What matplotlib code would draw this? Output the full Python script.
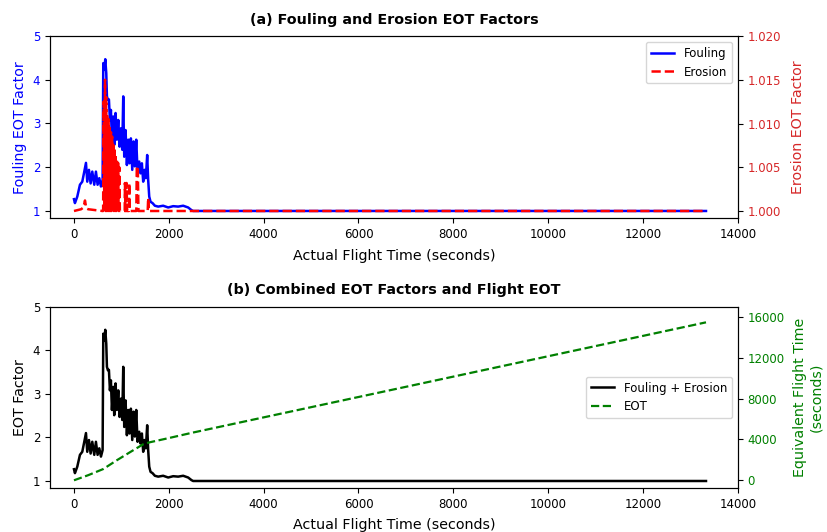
import numpy as np
import matplotlib
matplotlib.use("Agg")
import matplotlib.pyplot as plt

# fouling factor, time in seconds
foul_t = [0, 20, 70, 126, 175, 210, 253, 280, 316, 351, 386, 428, 463, 498, 534, 569, 604,
          618, 640, 660, 681, 695, 716, 737, 758, 779, 800, 828, 849, 877, 905, 934, 962, 990,
          1018, 1039, 1060, 1088, 1116, 1144, 1172, 1200, 1229, 1257, 1285, 1313, 1341, 1376,
          1404, 1432, 1460, 1488, 1516, 1544, 1565, 1587, 1615, 1657, 1706, 1776, 1881, 1987,
          2092, 2197, 2303, 2408, 2478, 2513, 13330]
foul_v = [1.27, 1.18, 1.33, 1.60, 1.67, 1.86, 2.10, 1.67, 1.94, 1.63, 1.90, 1.60, 1.90, 1.60,
          1.75, 1.56, 1.71, 4.38, 4.23, 4.47, 4.15, 3.62, 3.54, 3.55, 3.08, 3.31, 2.63, 3.16,
          2.51, 3.24, 2.63, 3.08, 2.47, 2.89, 2.40, 3.62, 2.24, 2.85, 2.05, 2.63, 2.09, 2.66,
          1.94, 2.59, 2.02, 2.63, 1.90, 2.13, 1.86, 2.09, 1.67, 1.94, 1.75, 2.28, 1.71, 1.33,
          1.21, 1.18, 1.12, 1.10, 1.12, 1.08, 1.11, 1.10, 1.12, 1.08, 1.02, 1.00, 1.00]

# erosion factor (right axis of panel a)
ero_t = [0, 150, 200, 232, 260, 300, 600, 615, 625, 640, 655, 668, 680, 692, 705, 718, 730,
         742, 755, 768, 780, 792, 805, 818, 830, 842, 855, 868, 880, 892, 905, 918, 930, 942,
         955, 968, 1000, 1070, 1075, 1085, 1105, 1110, 1120, 1160, 1165, 1175, 1315, 1325,
         1345, 1360, 1555, 1565, 1580, 13330]
ero_v = [1.0, 1.0002, 1.0004, 1.0012, 1.0003, 1.0002, 1.0, 1.0, 1.0125, 1.0, 1.015, 1.0,
         1.013, 1.0, 1.011, 1.0, 1.0105, 1.0, 1.0095, 1.0, 1.009, 1.0, 1.0085, 1.0, 1.0078,
         1.0, 1.0072, 1.0, 1.0065, 1.0, 1.0058, 1.0, 1.0055, 1.0, 1.005, 1.0, 1.0, 1.0,
         1.0032, 1.0, 1.0, 1.0032, 1.0, 1.0, 1.0032, 1.0, 1.0, 1.0051, 1.0051, 1.0, 1.0,
         1.0015, 1.0, 1.0]

# combined factor (panel b) - visually same trace as fouling
comb_t = foul_t
comb_v = foul_v

# equivalent flight time
eot_t = [0, 300, 617, 900, 1200, 1459, 1600, 2000, 2500, 13330]
eot_v = [0, 500, 1100, 1950, 2800, 3520, 3720, 4130, 4660, 15450]

fs_tick = 8.5
fs_lab = 10.3

fig = plt.figure(figsize=(8.27, 5.32), dpi=100)

# (a)
ax1 = fig.add_axes([0.0605, 0.5897, 0.8316, 0.3426])
ax1.plot(foul_t, foul_v, color='b', lw=1.8, label='Fouling')
ax1.set_xlim(-505, 13975)
ax1.set_ylim(0.833, 5)
ax1.set_yticks([1, 2, 3, 4, 5])
ax1.set_xticks(np.arange(0, 14001, 2000))
ax1.set_ylabel('Fouling EOT Factor', color='b', fontsize=fs_lab)
ax1.set_xlabel('Actual Flight Time (seconds)', fontsize=fs_lab, labelpad=6)
ax1.tick_params(axis='y', labelcolor='b', labelsize=fs_tick)
ax1.tick_params(axis='x', labelsize=fs_tick)
ax1.set_title('(a) Fouling and Erosion EOT Factors', fontsize=fs_lab, fontweight='bold', pad=9)

ax1b = ax1.twinx()
ax1b.plot(ero_t, ero_v, color='r', ls='--', lw=1.8, label='Erosion')
ax1b.set_ylim(0.999167, 1.02)
ax1b.set_yticks([1.000, 1.005, 1.010, 1.015, 1.020])
ax1b.set_yticklabels(['1.000', '1.005', '1.010', '1.015', '1.020'])
ax1b.set_ylabel('Erosion EOT Factor', color='tab:red', fontsize=fs_lab, labelpad=7)
ax1b.tick_params(axis='y', labelcolor='tab:red', labelsize=fs_tick)
h1, l1 = ax1.get_legend_handles_labels()
h2, l2 = ax1b.get_legend_handles_labels()
ax1b.legend(h1 + h2, l1 + l2, loc='upper right', fontsize=fs_tick)

# (b)
ax2 = fig.add_axes([0.0605, 0.0822, 0.8316, 0.3413])
ax2.plot(comb_t, comb_v, color='k', lw=1.8, label='Fouling + Erosion')
ax2.set_xlim(-505, 13975)
ax2.set_ylim(0.833, 5)
ax2.set_yticks([1, 2, 3, 4, 5])
ax2.set_xticks(np.arange(0, 14001, 2000))
ax2.set_ylabel('EOT Factor', fontsize=fs_lab)
ax2.set_xlabel('Actual Flight Time (seconds)', fontsize=fs_lab, labelpad=5)
ax2.tick_params(labelsize=fs_tick)
ax2.set_title('(b) Combined EOT Factors and Flight EOT', fontsize=fs_lab, fontweight='bold', pad=9)

ax2b = ax2.twinx()
ax2b.plot(eot_t, eot_v, color='g', ls='--', lw=1.6, label='EOT')
ax2b.set_ylim(-780, 16980)
ax2b.set_yticks([0, 4000, 8000, 12000, 16000])
ax2b.set_ylabel('Equivalent Flight Time\n(seconds)', color='g', fontsize=fs_lab, labelpad=6)
ax2b.tick_params(axis='y', labelcolor='g', labelsize=fs_tick)
h1, l1 = ax2.get_legend_handles_labels()
h2, l2 = ax2b.get_legend_handles_labels()
ax2b.legend(h1 + h2, l1 + l2, loc='center right', fontsize=fs_tick)

fig.savefig('out.png', dpi=100)
